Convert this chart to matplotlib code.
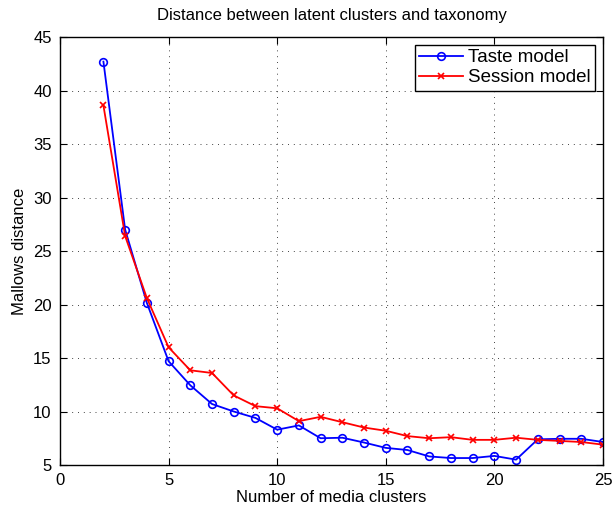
import matplotlib
matplotlib.use("Agg")
import matplotlib.pyplot as plt

plt.rcParams['font.family'] = ['Liberation Sans', 'DejaVu Sans']

clusters = list(range(2, 26))
taste = [42.7, 27.0, 20.15, 14.7, 12.45, 10.7, 10.0, 9.4, 8.3, 8.7, 7.5, 7.55,
         7.1, 6.6, 6.4, 5.8, 5.65, 5.65, 5.85, 5.5, 7.4, 7.45, 7.45, 7.15]
session = [38.6, 26.4, 20.6, 16.0, 13.85, 13.6, 11.5, 10.5, 10.3, 9.1, 9.5, 9.0,
           8.5, 8.2, 7.7, 7.5, 7.6, 7.35, 7.35, 7.55, 7.35, 7.25, 7.15, 6.9]

fig = plt.figure(figsize=(6.14, 5.12), dpi=100)
ax = fig.add_axes([0.0977, 0.0918, 0.8843, 0.8359])

ax.plot(clusters, taste, '-o', color='blue', linewidth=1.3, markersize=5.5,
        markerfacecolor='none', markeredgewidth=1.2, label='Taste model')
ax.plot(clusters, session, '-x', color='red', linewidth=1.3, markersize=4,
        markeredgewidth=1.2, label='Session model')

ax.set_xlim(0, 25)
ax.set_ylim(5, 45)
ax.set_xticks(range(0, 26, 5))
ax.set_yticks(range(5, 46, 5))
ax.grid(True, linestyle=(0, (1, 5)), color='#444444', linewidth=0.7)
ax.tick_params(direction='in', top=True, right=True, labelsize=12, length=5, pad=6)
for s in ax.spines.values():
    s.set_linewidth(1.0)

ax.set_title("Distance between latent clusters and taxonomy", fontsize=12, pad=12)
ax.set_xlabel("Number of media clusters", fontsize=12, labelpad=1)
ax.set_ylabel("Mallows distance", fontsize=12, labelpad=4)

leg = ax.legend(loc='upper right', fontsize=13.5, fancybox=False, framealpha=1,
                edgecolor='black', borderaxespad=0.4, handlelength=2.3,
                borderpad=0.25, labelspacing=0.15, handletextpad=0.3)
leg.get_frame().set_linewidth(1.0)

fig.savefig("out.png", dpi=100)
